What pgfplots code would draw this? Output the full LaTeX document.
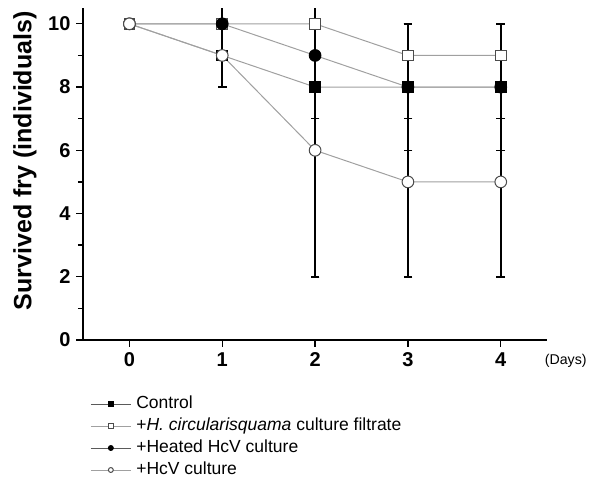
\documentclass[border=0pt]{standalone}
\usepackage{fontspec}
\setmainfont{Liberation Sans}
\usepackage{pgfplots}
\pgfplotsset{compat=1.18}
\definecolor{lgray}{RGB}{160,160,160}
\definecolor{dgray}{RGB}{90,90,90}
\begin{document}
\begin{tikzpicture}
\path[use as bounding box] (-49.8pt,-82.2pt) rectangle (310.8pt,204pt);
\begin{axis}[
  at={(0pt,0pt)}, anchor=south west,
  x=55.7pt, y=18.97pt,
  xmin=-0.5, xmax=4.5, ymin=0, ymax=10.5,
  axis x line*=bottom, axis y line*=left,
  axis line style={line width=0.9pt, black},
  xtick={0,1,2,3,4}, ytick={0,2,4,6,8,10}, minor ytick={1,3,5,7,9},
  tick align=outside, tick style={line width=0.8pt, black},
  major tick length=4pt, minor tick length=3pt,
  /pgf/number format/assume math mode=true,
  ticklabel style={font=\bfseries\fontsize{12}{14}\selectfont},
  ylabel={Survived fry (individuals)},
  ylabel style={font=\bfseries\fontsize{15}{17}\selectfont, at={(axis description cs:-0.125,0.54)}, anchor=center, rotate=0},
  xlabel={(Days)},
  xlabel style={font=\fontsize{8.5}{10}\selectfont, at={(axis description cs:1.04,0)}, anchor=center, yshift=-12.6pt},
  legend cell align=left,
  legend style={draw=none, fill=none, inner sep=0pt, row sep=3.2pt, column sep=3pt,
    at={(axis description cs:0,0)}, anchor=north west, xshift=4.2pt, yshift=-33.2pt,
    font=\fontsize{10.5}{12}\selectfont,
    nodes={inner sep=0pt, text height=7.5pt, text depth=2.5pt}},
  legend image code/.code={
    \draw[#1, mark=none] (0pt,0pt) -- (24pt,0pt);
    \path[#1, only marks, every mark/.append style={scale=0.42}] plot coordinates {(12pt,0pt)};
    \path (0pt,-2.4pt) (0pt,2.4pt);
  },
]
% error bars (drawn first, behind markers)
\addplot[draw=none, mark=none, forget plot,
  error bars/.cd, y dir=both, y explicit,
  error bar style={draw=black, line width=1pt},
  error mark options={draw=black, mark size=2.6pt, line width=0.9pt, rotate=90}]
  coordinates {
   (1,9) +- (0,1)
   (1,10) +- (0,1)
   (2,8) +- (0,6)
   (2,9) +- (0,2)
   (2,6) +- (0,4)
   (3,9) +- (0,1)
   (3,8) +- (0,2)
   (3,8.0001) +- (0,1)
   (3,5) +- (0,3)
   (4,9) +- (0,1)
   (4,8) +- (0,2)
   (4,8.0001) +- (0,1)
   (4,5) +- (0,3)
  };
\addplot[lgray, line width=0.6pt, mark=square*, mark size=3.2pt,
  mark options={draw=black, fill=black, line width=0.6pt},
  legend image post style={dgray}]
  coordinates {(0,10) (1,9) (2,8) (3,8) (4,8)};
\addlegendentry{Control}
\addplot[lgray, line width=0.6pt, mark=square*, mark size=3.2pt,
  mark options={draw=black!70, fill=white, line width=0.6pt}]
  coordinates {(0,10) (1,10) (2,10) (3,9) (4,9)};
\addlegendentry{+\textit{H. circularisquama} culture filtrate}
\addplot[lgray, line width=0.6pt, mark=*, mark size=3.5pt,
  mark options={draw=black, fill=black, line width=0.6pt},
  legend image post style={dgray}]
  coordinates {(0,10) (1,10) (2,9) (3,8) (4,8)};
\addlegendentry{+Heated HcV culture}
\addplot[lgray, line width=0.6pt, mark=*, mark size=3.5pt,
  mark options={draw=black!70, fill=white, line width=0.6pt}]
  coordinates {(0,10) (1,9) (2,6) (3,5) (4,5)};
\addlegendentry{+HcV culture}
\end{axis}
\end{tikzpicture}
\end{document}
